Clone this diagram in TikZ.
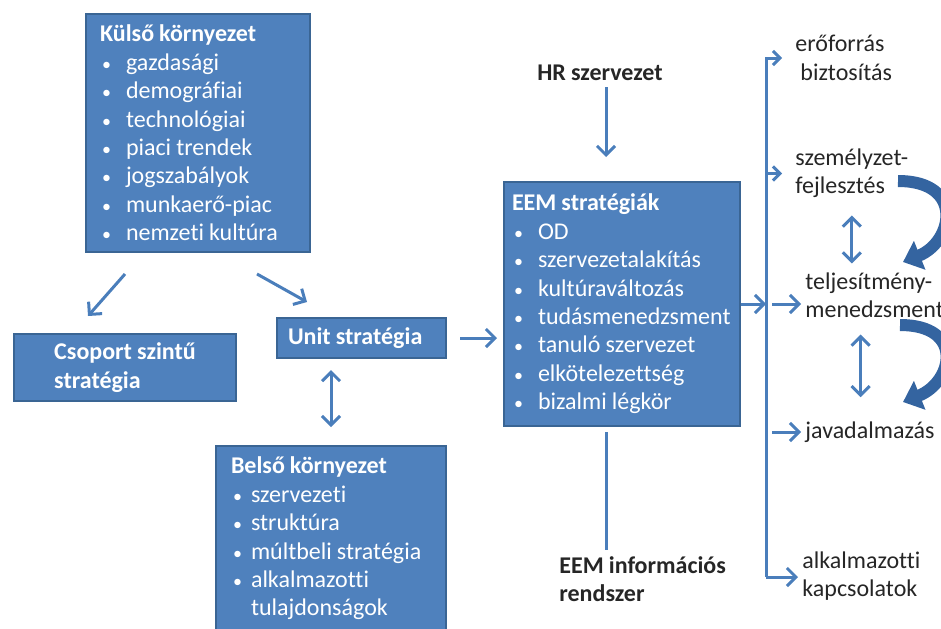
\documentclass[tikz,border=0pt]{standalone}
\usepackage{fontspec}
\setmainfont{Carlito}[RawFeature={-liga;-clig;-calt;-dlig}]
\usepackage{xcolor}
\definecolor{boxfill}{HTML}{4F81BD}
\definecolor{boxline}{HTML}{3A6594}
\definecolor{accent}{HTML}{4A7EBB}
\definecolor{deep}{HTML}{3464A0}
\definecolor{ink}{HTML}{262626}
\usepackage{tikz}
\usetikzlibrary{positioning, arrows.meta, calc}
\newcommand{\itm}[2][13pt]{\mbox{\makebox[#1][l]{\hspace{1pt}\scalebox{0.75}{\textbullet}}#2}}
\newcommand{\tight}{\spaceskip=0.21em\xspaceskip=0.21em\relax}
\tikzset{
    stratbox/.style = {draw=boxline, fill=boxfill, line width=1pt, text=white,
                       font=\fontsize{12}{14.2}\selectfont, align=left,
                       anchor=north west, inner ysep=0pt},
    sidetext/.style = {text=ink, font=\fontsize{12}{14.2}\selectfont,
                       align=left, inner sep=2pt},
    arrow/.style = {-{Straight Barb[length=4.5pt, width=9pt]}, line width=1.5pt, color=accent},
    smallarrow/.style = {-{Straight Barb[length=3.5pt, width=7pt]}, line width=1.5pt, color=accent},
    twoway/.style = {{Straight Barb[length=4.5pt, width=9pt]}-{Straight Barb[length=4.5pt, width=9pt]},
                     line width=1.5pt, color=accent},
    link/.style = {line width=1.5pt, color=accent},
    curvearrow/.style = {-{Triangle[length=9pt, width=15pt]}, line width=6pt, color=deep},
}

\begin{document}
\begin{tikzpicture}[x=0.5pt, y=-0.5pt]
        \useasboundingbox (0,0) rectangle (941,628);
        \node[stratbox, text width=98pt, inner xsep=7pt, minimum height=119pt] (kulso) at (85,13)
            {\tight\textbf{Külső környezet}\\ \itm{gazdasági}\\ \itm{demográfiai}\\ \itm{technológiai}\\
             \itm{piaci trendek}\\ \itm{jogszabályok}\\ \itm{munkaerő-piac}\\ \itm{nemzeti kultúra}};
        \node[stratbox, minimum width=111pt, minimum height=33.5pt] (csoport) at (13,333)
            {\tight\textbf{Csoport szintű}\\ \textbf{stratégia}};
        \node[stratbox, text width=73.5pt, inner xsep=5.5pt, minimum height=20pt] (unit) at (276,317)
            {\tight\textbf{Unit stratégia}};
        \node[stratbox, text width=100pt, inner xsep=7.5pt, minimum height=92.5pt] (belso) at (215,445)
            {\tight\textbf{Belső környezet}\\ \itm[10pt]{szervezeti}\\ \itm[10pt]{struktúra}\\
             \itm[10pt]{múltbeli stratégia}\\ \itm[10pt]{alkalmazotti}\\ \mbox{\hspace{10pt}tulajdonságok}};
        \node[stratbox, text width=110pt, inner xsep=4pt, minimum height=122pt] (eem) at (503,181)
            {\tight\textbf{EEM stratégiák}\\ \itm{OD}\\ \itm{szervezetalakítás}\\ \itm{kultúraváltozás}\\
             \itm{tudásmenedzsment}\\ \itm{tanuló szervezet}\\ \itm{elkötelezettség}\\ \itm{bizalmi légkör}};

        \node[sidetext, font=\fontsize{12}{14.2}\selectfont\bfseries, inner sep=3pt] (hr) at (600,73) {\tight HR szervezet};
        \node[sidetext, font=\fontsize{12}{14.2}\selectfont\bfseries, inner sep=3pt, anchor=west] (info) at (553,579)
            {\tight EEM információs\\ rendszer};

        \node[sidetext, anchor=west] (eroforras) at (791,58) {erőforrás\\ \mbox{\hspace{2.5pt}biztosítás}};
        \node[sidetext, anchor=west] (szemely) at (791,173.5) {személyzet-\\ fejlesztés};
        \node[sidetext, anchor=west] (teljes) at (801,295.5) {teljesítmény-\\ menedzsment};
        \node[sidetext, anchor=west] (javad) at (801,432) {javadalmazás};
        \node[sidetext, anchor=west] (kapcs) at (798,576) {alkalmazotti\\ kapcsolatok};

        \coordinate (spinetop) at (766,58);
        \coordinate (spinebot) at (766,577);

        \draw[arrow] ([shift={(20pt,-10.5pt)}]kulso.south west) -- ([shift={(37.5pt,8.5pt)}]csoport.north west);
        \draw[arrow] ([shift={(-27pt,-10.5pt)}]kulso.south east) -- ([shift={(15.5pt,7.5pt)}]unit.north west);
        \draw[twoway, shorten <=5.5pt, shorten >=9pt] (unit.south -| belso.north) -- (belso.north);
        \draw[arrow, shorten <=6.5pt, shorten >=3pt] (unit.east) -- (unit.east -| eem.west);
        \draw[arrow, shorten >=12pt] ([xshift=-8pt]eem.north |- hr.south) -- ([xshift=-8pt]eem.north);
        \draw[link] ([xshift=-8pt, yshift=-2.5pt]eem.south) -- ([xshift=-8pt]eem.south |- info.north);

        \draw[arrow] (eem.east) -- (eem.east -| spinetop);
        \draw[smallarrow, shorten >=4.5pt] (spinebot) -- (spinetop) -- (eroforras.west);
        \draw[smallarrow, shorten >=4.5pt] (spinetop |- szemely.west) -- (szemely.west);
        \draw[arrow] ($(spinetop |- eem.east)+(3pt,0)$) -- (teljes.west |- eem.east);
        \draw[arrow] ($(spinetop |- javad.west)+(3pt,0)$) -- (javad.west);
        \draw[arrow] (spinebot) -- (spinebot -| kapcs.west);

        \draw[twoway, shorten <=6.5pt, shorten >=2.5pt] (szemely.south) -- (szemely.south |- teljes.north);
        \draw[twoway, shorten <=6pt, shorten >=10pt] ([xshift=-7pt]teljes.south) -- ($(teljes.south |- javad.north)+(-7pt,0)$);

        \coordinate (c1s) at (898,181);
        \coordinate (c1e) at (903,262);
        \coordinate (c2s) at (900,325);
        \coordinate (c2e) at (903,402);
        \draw[curvearrow] (c1s) .. controls (965,181) and (953,242) .. (c1e);
        \draw[curvearrow] (c2s) .. controls (965,325) and (953,382) .. (c2e);
      \end{tikzpicture}
\end{document}
